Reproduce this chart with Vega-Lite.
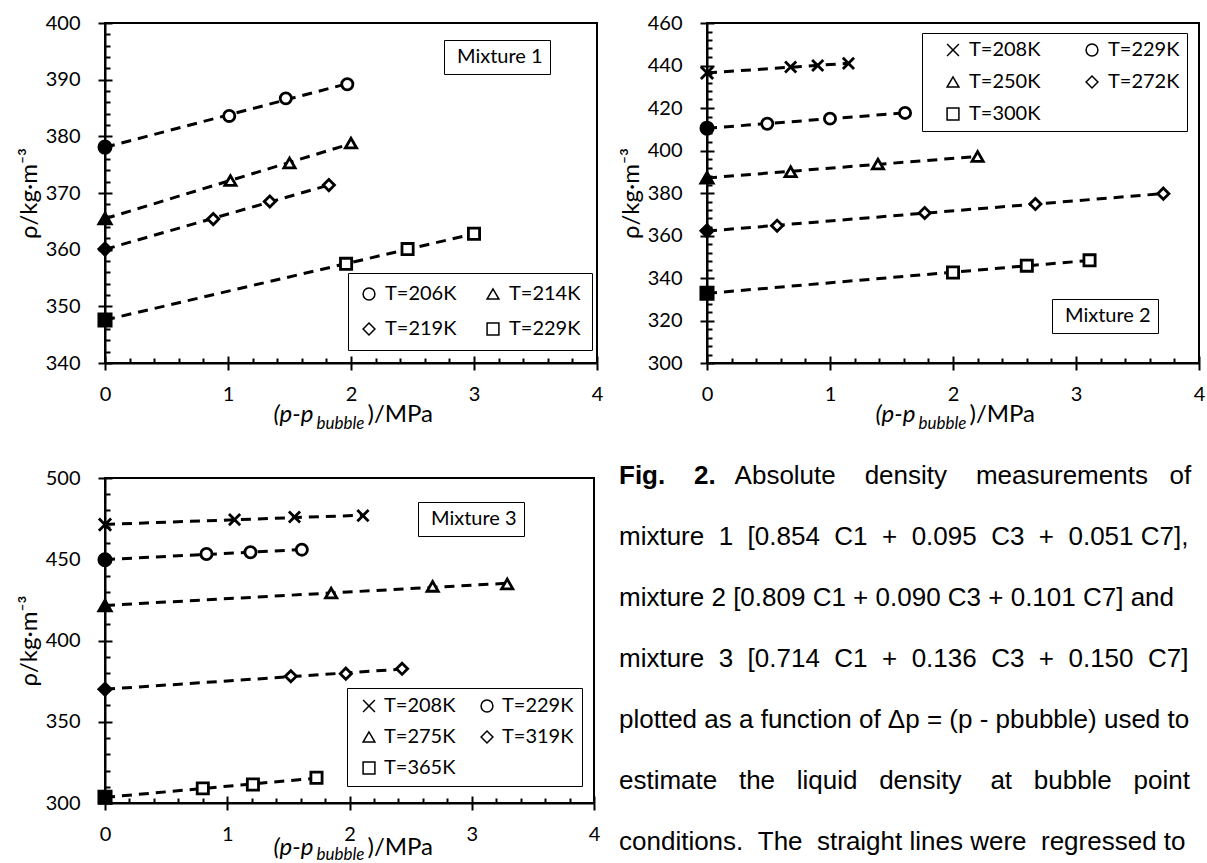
{
  "$schema": "https://vega.github.io/schema/vega-lite/v6.json",
  "background": "white",
  "padding": {"left": 16, "top": 12, "right": 0, "bottom": 0},
  "datasets": {
    "m1": [
      {"T": "T=206K", "kind": "fit", "dp": 0, "rho": 378.1},
      {"T": "T=206K", "kind": "meas", "dp": 1.01, "rho": 383.6},
      {"T": "T=206K", "kind": "meas", "dp": 1.47, "rho": 386.7},
      {"T": "T=206K", "kind": "meas", "dp": 1.97, "rho": 389.2},
      {"T": "T=214K", "kind": "fit", "dp": 0, "rho": 365.5},
      {"T": "T=214K", "kind": "meas", "dp": 1.02, "rho": 372.2},
      {"T": "T=214K", "kind": "meas", "dp": 1.5, "rho": 375.3},
      {"T": "T=214K", "kind": "meas", "dp": 2.0, "rho": 378.8},
      {"T": "T=219K", "kind": "fit", "dp": 0, "rho": 360.1},
      {"T": "T=219K", "kind": "meas", "dp": 0.88, "rho": 365.4},
      {"T": "T=219K", "kind": "meas", "dp": 1.34, "rho": 368.5},
      {"T": "T=219K", "kind": "meas", "dp": 1.82, "rho": 371.4},
      {"T": "T=229K", "kind": "fit", "dp": 0, "rho": 347.6},
      {"T": "T=229K", "kind": "meas", "dp": 1.96, "rho": 357.5},
      {"T": "T=229K", "kind": "meas", "dp": 2.46, "rho": 360.1},
      {"T": "T=229K", "kind": "meas", "dp": 3.0, "rho": 362.8}
    ],
    "m2": [
      {"T": "T=208K", "kind": "fit", "dp": 0, "rho": 436.5},
      {"T": "T=208K", "kind": "meas", "dp": 0.68, "rho": 439.3},
      {"T": "T=208K", "kind": "meas", "dp": 0.9, "rho": 440.0},
      {"T": "T=208K", "kind": "meas", "dp": 1.15, "rho": 441.0},
      {"T": "T=229K", "kind": "fit", "dp": 0, "rho": 410.5},
      {"T": "T=229K", "kind": "meas", "dp": 0.49, "rho": 412.6},
      {"T": "T=229K", "kind": "meas", "dp": 1.0, "rho": 415.0},
      {"T": "T=229K", "kind": "meas", "dp": 1.61, "rho": 417.7},
      {"T": "T=250K", "kind": "fit", "dp": 0, "rho": 387.2},
      {"T": "T=250K", "kind": "meas", "dp": 0.68, "rho": 390.0},
      {"T": "T=250K", "kind": "meas", "dp": 1.39, "rho": 393.6},
      {"T": "T=250K", "kind": "meas", "dp": 2.2, "rho": 397.2},
      {"T": "T=272K", "kind": "fit", "dp": 0, "rho": 362.2},
      {"T": "T=272K", "kind": "meas", "dp": 0.57, "rho": 364.6},
      {"T": "T=272K", "kind": "meas", "dp": 1.77, "rho": 370.6},
      {"T": "T=272K", "kind": "meas", "dp": 2.67, "rho": 374.8},
      {"T": "T=272K", "kind": "meas", "dp": 3.71, "rho": 379.7},
      {"T": "T=300K", "kind": "fit", "dp": 0, "rho": 332.8},
      {"T": "T=300K", "kind": "meas", "dp": 2.0, "rho": 342.6},
      {"T": "T=300K", "kind": "meas", "dp": 2.6, "rho": 345.8},
      {"T": "T=300K", "kind": "meas", "dp": 3.11, "rho": 348.3}
    ],
    "m3": [
      {"T": "T=208K", "kind": "fit", "dp": 0, "rho": 471.3},
      {"T": "T=208K", "kind": "meas", "dp": 1.06, "rho": 474.4},
      {"T": "T=208K", "kind": "meas", "dp": 1.55, "rho": 476.0},
      {"T": "T=208K", "kind": "meas", "dp": 2.11, "rho": 476.8},
      {"T": "T=229K", "kind": "fit", "dp": 0, "rho": 449.7},
      {"T": "T=229K", "kind": "meas", "dp": 0.83, "rho": 453.2},
      {"T": "T=229K", "kind": "meas", "dp": 1.19, "rho": 454.3},
      {"T": "T=229K", "kind": "meas", "dp": 1.61, "rho": 455.9},
      {"T": "T=275K", "kind": "fit", "dp": 0, "rho": 421.5},
      {"T": "T=275K", "kind": "meas", "dp": 1.85, "rho": 429.2},
      {"T": "T=275K", "kind": "meas", "dp": 2.68, "rho": 433.3},
      {"T": "T=275K", "kind": "meas", "dp": 3.29, "rho": 434.8},
      {"T": "T=319K", "kind": "fit", "dp": 0, "rho": 370.0},
      {"T": "T=319K", "kind": "meas", "dp": 1.52, "rho": 378.0},
      {"T": "T=319K", "kind": "meas", "dp": 1.97, "rho": 379.6},
      {"T": "T=319K", "kind": "meas", "dp": 2.43, "rho": 382.6},
      {"T": "T=365K", "kind": "fit", "dp": 0, "rho": 303.5},
      {"T": "T=365K", "kind": "meas", "dp": 0.8, "rho": 309.0},
      {"T": "T=365K", "kind": "meas", "dp": 1.21, "rho": 311.4},
      {"T": "T=365K", "kind": "meas", "dp": 1.73, "rho": 315.5}
    ]
  },
  "columns": 2,
  "spacing": {"row": 115, "column": 110},
  "bounds": "flush",
  "resolve": {
    "scale": {"x": "independent", "y": "independent", "shape": "independent", "opacity": "independent"},
    "legend": {"shape": "independent", "opacity": "independent"},
    "axis": {"x": "independent", "y": "independent"}
  },
  "concat": [
    {
      "width": 492, "height": 340,
      "data": {"name": "m1"},
      "resolve": {"axis": {"x": "independent", "y": "independent"}},
      "layer": [
        {
          "transform": [{"regression": "rho", "on": "dp", "groupby": ["T"]}],
          "mark": {"type": "line", "color": "black", "strokeWidth": 3, "strokeDash": [10, 7]},
          "encoding": {
            "x": {"field": "dp", "type": "quantitative", "scale": {"domain": [0, 4], "nice": false},
              "axis": {"orient": "bottom", "values": [0.2,0.4,0.6,0.8,1.2,1.4,1.6,1.8,2.2,2.4,2.6,2.8,3.2,3.4,3.6,3.8], "tickSize": -5, "labels": false, "domain": false,
                "title": "bubble", "titleFontSize": 17, "titleFontStyle": "italic", "titleAlign": "left", "titleBaseline": "alphabetic", "titleAnchor": "start", "titleX": 211, "titleY": 65}},
            "y": {"field": "rho", "type": "quantitative", "scale": {"domain": [340, 400], "nice": false, "zero": false},
              "axis": {"orient": "left", "values": [342,344,346,348,352,354,356,358,362,364,366,368,372,374,376,378,382,384,386,388,392,394,396,398], "tickSize": -5, "labels": false, "domain": false, "title": null}},
            "detail": {"field": "T"}
          }
        },
        {
          "transform": [{"filter": "datum.kind == 'meas'"}],
          "mark": {"type": "point", "filled": true, "fill": "white", "stroke": "black", "strokeWidth": 2.8, "size": 125, "opacity": 1},
          "encoding": {
            "x": {"field": "dp", "type": "quantitative",
              "axis": {"orient": "bottom", "values": [0, 1, 2, 3, 4], "format": "d", "tickSize": 7, "labelPadding": 14,
                "title": "(p-p", "titleFontSize": 24, "titleFontStyle": "italic", "titleAlign": "left", "titleBaseline": "alphabetic", "titleAnchor": "start", "titleX": 168, "titleY": 58}},
            "y": {"field": "rho", "type": "quantitative",
              "axis": {"orient": "left", "values": [340, 350, 360, 370, 380, 390, 400], "tickSize": 7, "labelPadding": 18, "title": "ρ/kg·m⁻³", "titleFontSize": 24, "titlePadding": 4}},
            "shape": {"field": "T", "type": "nominal",
              "scale": {"domain": ["T=206K", "T=219K", "T=214K", "T=229K"], "range": ["circle", "diamond", "triangle-up", "square"]},
              "legend": {"title": null, "orient": "none", "legendX": 243, "legendY": 250, "columns": 2, "columnPadding": 26, "rowPadding": 15, "padding": 11,
                "symbolSize": 140, "symbolOffset": 0, "labelOffset": 6,
                "encode": {"legend": {"update": {"strokeWidth": {"value": 2}}}, "symbols": {"update": {"fill": {"value": "white"}, "stroke": {"value": "black"}, "strokeWidth": {"value": 3}}}}}}
          }
        },
        {
          "transform": [{"filter": "datum.kind == 'fit'"}],
          "mark": {"type": "point", "filled": true, "fill": "black", "stroke": "black", "strokeWidth": 2.8, "size": 150},
          "encoding": {
            "x": {"field": "dp", "type": "quantitative",
              "axis": {"orient": "bottom", "values": [0, 1, 2, 3, 4], "tickSize": -7, "labels": false, "domain": false,
                "title": ")/MPa", "titleFontSize": 24, "titleAlign": "left", "titleBaseline": "alphabetic", "titleAnchor": "start", "titleX": 262, "titleY": 58}},
            "y": {"field": "rho", "type": "quantitative",
              "axis": {"orient": "left", "values": [340, 350, 360, 370, 380, 390, 400], "tickSize": -7, "labels": false, "domain": false, "title": null}},
            "shape": {"field": "T", "type": "nominal"},
            "opacity": {"datum": "Mixture 1", "type": "nominal", "scale": {"range": [1, 1]},
              "legend": {"title": null, "orient": "none", "legendX": 339, "legendY": 17, "padding": 7, "symbolSize": 0, "symbolOpacity": 0, "symbolStrokeWidth": 0, "labelOffset": -14,
                "encode": {"legend": {"update": {"strokeWidth": {"value": 2}}}}}}
          }
        }
      ]
    },
    {
      "width": 492, "height": 340,
      "data": {"name": "m2"},
      "resolve": {"axis": {"x": "independent", "y": "independent"}},
      "layer": [
        {
          "transform": [{"regression": "rho", "on": "dp", "groupby": ["T"]}],
          "mark": {"type": "line", "color": "black", "strokeWidth": 3, "strokeDash": [10, 7]},
          "encoding": {
            "x": {"field": "dp", "type": "quantitative", "scale": {"domain": [0, 4], "nice": false},
              "axis": {"orient": "bottom", "values": [0.2,0.4,0.6,0.8,1.2,1.4,1.6,1.8,2.2,2.4,2.6,2.8,3.2,3.4,3.6,3.8], "tickSize": -5, "labels": false, "domain": false,
                "title": "bubble", "titleFontSize": 17, "titleFontStyle": "italic", "titleAlign": "left", "titleBaseline": "alphabetic", "titleAnchor": "start", "titleX": 211, "titleY": 65}},
            "y": {"field": "rho", "type": "quantitative", "scale": {"domain": [300, 460], "nice": false, "zero": false},
              "axis": {"orient": "left", "values": [304,308,312,316,324,328,332,336,344,348,352,356,364,368,372,376,384,388,392,396,404,408,412,416,424,428,432,436,444,448,452,456], "tickSize": -5, "labels": false, "domain": false, "title": null}},
            "detail": {"field": "T"}
          }
        },
        {
          "transform": [{"filter": "datum.kind == 'meas'"}],
          "mark": {"type": "point", "filled": true, "fill": "white", "stroke": "black", "strokeWidth": 2.8, "size": 125, "opacity": 1},
          "encoding": {
            "x": {"field": "dp", "type": "quantitative",
              "axis": {"orient": "bottom", "values": [0, 1, 2, 3, 4], "format": "d", "tickSize": 7, "labelPadding": 14,
                "title": "(p-p", "titleFontSize": 24, "titleFontStyle": "italic", "titleAlign": "left", "titleBaseline": "alphabetic", "titleAnchor": "start", "titleX": 168, "titleY": 58}},
            "y": {"field": "rho", "type": "quantitative",
              "axis": {"orient": "left", "values": [300, 320, 340, 360, 380, 400, 420, 440, 460], "tickSize": 7, "labelPadding": 18, "title": "ρ/kg·m⁻³", "titleFontSize": 24, "titlePadding": 4}},
            "shape": {"field": "T", "type": "nominal",
              "scale": {"domain": ["T=208K", "T=250K", "T=300K", "T=229K", "T=272K"], "range": ["M-1,-1L1,1M-1,1L1,-1", "triangle-up", "square", "circle", "diamond"]},
              "legend": {"title": null, "orient": "none", "legendX": 215, "legendY": 10, "columns": 2, "columnPadding": 27, "rowPadding": 12, "padding": 7,
                "symbolSize": 140, "symbolOffset": 14, "labelOffset": 6,
                "encode": {"legend": {"update": {"strokeWidth": {"value": 2}}}, "symbols": {"update": {"fill": {"value": "white"}, "stroke": {"value": "black"}, "strokeWidth": {"value": 3}}}}}}
          }
        },
        {
          "transform": [{"filter": "datum.kind == 'fit'"}],
          "mark": {"type": "point", "filled": true, "fill": "black", "stroke": "black", "strokeWidth": 2.8, "size": 150},
          "encoding": {
            "x": {"field": "dp", "type": "quantitative",
              "axis": {"orient": "bottom", "values": [0, 1, 2, 3, 4], "tickSize": -7, "labels": false, "domain": false,
                "title": ")/MPa", "titleFontSize": 24, "titleAlign": "left", "titleBaseline": "alphabetic", "titleAnchor": "start", "titleX": 262, "titleY": 58}},
            "y": {"field": "rho", "type": "quantitative",
              "axis": {"orient": "left", "values": [300, 320, 340, 360, 380, 400, 420, 440, 460], "tickSize": -7, "labels": false, "domain": false, "title": null}},
            "shape": {"field": "T", "type": "nominal"},
            "opacity": {"datum": "Mixture 2", "type": "nominal", "scale": {"range": [1, 1]},
              "legend": {"title": null, "orient": "none", "legendX": 345, "legendY": 276, "padding": 7, "symbolSize": 0, "symbolOpacity": 0, "symbolStrokeWidth": 0, "labelOffset": -14,
                "encode": {"legend": {"update": {"strokeWidth": {"value": 2}}}}}}
          }
        }
      ]
    },
    {
      "width": 489, "height": 325,
      "data": {"name": "m3"},
      "resolve": {"axis": {"x": "independent", "y": "independent"}},
      "layer": [
        {
          "transform": [{"regression": "rho", "on": "dp", "groupby": ["T"]}],
          "mark": {"type": "line", "color": "black", "strokeWidth": 3, "strokeDash": [10, 7]},
          "encoding": {
            "x": {"field": "dp", "type": "quantitative", "scale": {"domain": [0, 4], "nice": false},
              "axis": {"orient": "bottom", "values": [0.2,0.4,0.6,0.8,1.2,1.4,1.6,1.8,2.2,2.4,2.6,2.8,3.2,3.4,3.6,3.8], "tickSize": -5, "labels": false, "domain": false,
                "title": "bubble", "titleFontSize": 17, "titleFontStyle": "italic", "titleAlign": "left", "titleBaseline": "alphabetic", "titleAnchor": "start", "titleX": 211, "titleY": 56}},
            "y": {"field": "rho", "type": "quantitative", "scale": {"domain": [300, 500], "nice": false, "zero": false},
              "axis": {"orient": "left", "values": [310,320,330,340,360,370,380,390,410,420,430,440,460,470,480,490], "tickSize": -5, "labels": false, "domain": false, "title": null}},
            "detail": {"field": "T"}
          }
        },
        {
          "transform": [{"filter": "datum.kind == 'meas'"}],
          "mark": {"type": "point", "filled": true, "fill": "white", "stroke": "black", "strokeWidth": 2.8, "size": 125, "opacity": 1},
          "encoding": {
            "x": {"field": "dp", "type": "quantitative",
              "axis": {"orient": "bottom", "values": [0, 1, 2, 3, 4], "format": "d", "tickSize": 7, "labelPadding": 14,
                "title": "(p-p", "titleFontSize": 24, "titleFontStyle": "italic", "titleAlign": "left", "titleBaseline": "alphabetic", "titleAnchor": "start", "titleX": 168, "titleY": 51}},
            "y": {"field": "rho", "type": "quantitative",
              "axis": {"orient": "left", "values": [300, 350, 400, 450, 500], "tickSize": 7, "labelPadding": 18, "title": "ρ/kg·m⁻³", "titleFontSize": 24, "titlePadding": 4}},
            "shape": {"field": "T", "type": "nominal",
              "scale": {"domain": ["T=208K", "T=275K", "T=365K", "T=229K", "T=319K"], "range": ["M-1,-1L1,1M-1,1L1,-1", "triangle-up", "square", "circle", "diamond"]},
              "legend": {"title": null, "orient": "none", "legendX": 242, "legendY": 210, "columns": 2, "columnPadding": 17, "rowPadding": 11, "padding": 8,
                "symbolSize": 140, "symbolOffset": 4, "labelOffset": 5,
                "encode": {"legend": {"update": {"strokeWidth": {"value": 2}}}, "symbols": {"update": {"fill": {"value": "white"}, "stroke": {"value": "black"}, "strokeWidth": {"value": 3}}}}}}
          }
        },
        {
          "transform": [{"filter": "datum.kind == 'fit'"}],
          "mark": {"type": "point", "filled": true, "fill": "black", "stroke": "black", "strokeWidth": 2.8, "size": 150},
          "encoding": {
            "x": {"field": "dp", "type": "quantitative",
              "axis": {"orient": "bottom", "values": [0, 1, 2, 3, 4], "tickSize": -7, "labels": false, "domain": false,
                "title": ")/MPa", "titleFontSize": 24, "titleAlign": "left", "titleBaseline": "alphabetic", "titleAnchor": "start", "titleX": 262, "titleY": 51}},
            "y": {"field": "rho", "type": "quantitative",
              "axis": {"orient": "left", "values": [300, 350, 400, 450, 500], "tickSize": -7, "labels": false, "domain": false, "title": null}},
            "shape": {"field": "T", "type": "nominal"},
            "opacity": {"datum": "Mixture 3", "type": "nominal", "scale": {"range": [1, 1]},
              "legend": {"title": null, "orient": "none", "legendX": 313, "legendY": 24, "padding": 7, "symbolSize": 0, "symbolOpacity": 0, "symbolStrokeWidth": 0, "labelOffset": -14,
                "encode": {"legend": {"update": {"strokeWidth": {"value": 2}}}}}}
          }
        }
      ]
    },
    {
      "width": 580, "height": 325,
      "view": {"stroke": null},
      "data": {"values": [{"caption": "Fig. 2"}]},
      "mark": {"type": "point", "opacity": 0},
      "title": {
        "text": "Fig.\u00a0\u00a0\u00a0\u00a02.",
        "subtitle": [
          "\u200b\u00a0\u00a0\u00a0\u00a0\u00a0\u00a0\u00a0\u00a0\u00a0\u00a0\u00a0\u00a0\u00a0\u00a0\u00a0\u00a0Absolute\u00a0\u00a0\u00a0\u00a0density\u00a0\u00a0\u00a0\u00a0measurements\u00a0\u00a0\u00a0of",
          "mixture\u00a0\u00a01\u00a0\u00a0[0.854\u00a0\u00a0C1\u00a0\u00a0+\u00a0\u00a00.095\u00a0\u00a0C3\u00a0\u00a0+\u00a0\u00a00.051\u00a0C7],",
          "mixture 2 [0.809 C1 + 0.090 C3 + 0.101 C7] and",
          "mixture\u00a0\u00a03\u00a0\u00a0[0.714\u00a0\u00a0C1\u00a0\u00a0+\u00a0\u00a00.136\u00a0\u00a0C3\u00a0\u00a0+\u00a0\u00a00.150\u00a0\u00a0C7]",
          "plotted as a function of Δp = (p - pbubble) used to",
          "estimate\u00a0\u00a0\u00a0the\u00a0\u00a0\u00a0liquid\u00a0\u00a0\u00a0density\u00a0\u00a0\u00a0\u00a0at\u00a0\u00a0\u00a0bubble\u00a0\u00a0\u00a0point",
          "conditions.\u00a0\u00a0The\u00a0\u00a0straight\u00a0lines\u00a0were\u00a0\u00a0regressed\u00a0to"
        ],
        "anchor": "start", "orient": "top", "frame": "group",
        "font": "Liberation Sans", "fontSize": 26, "fontWeight": "bold", "color": "black",
        "subtitleFont": "Liberation Sans", "subtitleFontSize": 26, "subtitleColor": "black", "subtitleLineHeight": 61, "subtitlePadding": -26,
        "offset": -377, "dx": -88
      }
    }
  ],
  "config": {
    "font": "Lato",
    "view": {"stroke": "black", "strokeWidth": 2},
    "axis": {
      "domainColor": "black", "domainWidth": 2, "tickColor": "black", "tickWidth": 2,
      "labelFont": "Lato", "labelFontSize": 20, "labelColor": "black", "labelFlush": false, "labelOverlap": false,
      "grid": false, "titleFont": "Lato", "titleFontSize": 20, "titleFontWeight": "normal", "titleColor": "black"
    },
    "legend": {
      "labelFont": "Lato", "labelFontSize": 20, "labelColor": "black", "strokeColor": "black", "fillColor": "white"
    }
  }
}
